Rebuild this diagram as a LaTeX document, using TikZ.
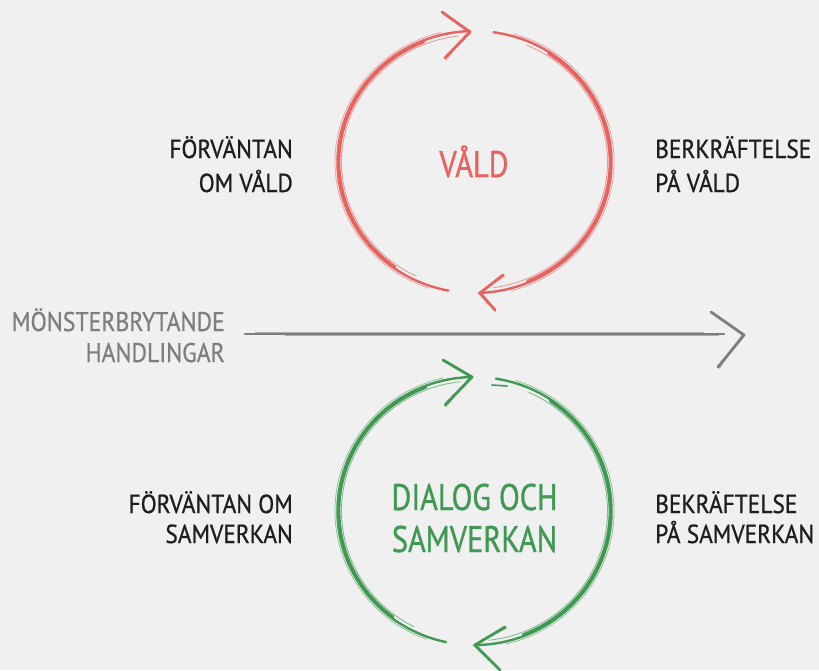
\documentclass[tikz,border=0pt]{standalone}
\usepackage{fontspec}
\setmainfont{PT Sans}
\newfontfamily\lblfont{PT Sans}[FakeStretch=0.9, FakeBold=0.8]
\newfontfamily\grfont{PT Sans}[FakeStretch=0.88, FakeBold=0.6]
\newfontfamily\ctrfont{PT Sans}[FakeStretch=0.82, FakeBold=0.8]
\definecolor{bg}{HTML}{F0F0F0}
\definecolor{vred}{HTML}{E8625F}
\definecolor{sgreen}{HTML}{3F9952}
\definecolor{ggray}{HTML}{7E7E7E}
\definecolor{ink}{HTML}{1E1E1E}
\newcommand\myarc[6]{%
 \draw[#6, line width=2.4pt, line cap=round] ([shift={(#4:#2 and #3)}]#1) arc[start angle=#4, end angle=#5, x radius=#2, y radius=#3];
 \draw[#6, line width=2.8pt, line cap=round] ([shift={(#4+25:#2-1.5 and #3-1.5)}]#1) arc[start angle=#4+25, end angle=#5-20, x radius=#2-1.5, y radius=#3-1.5];
 \draw[#6, line width=0.8pt, opacity=.55] ([shift={(#4+8:#2+2.5 and #3+2.5)}]#1) arc[start angle=#4+8, end angle=#5-12, x radius=#2+2.5, y radius=#3+2.5];
 \draw[#6, line width=0.9pt, opacity=.6] ([shift={(#4+15:#2-4 and #3-4)}]#1) arc[start angle=#4+15, end angle=#5-5, x radius=#2-4, y radius=#3-4];
}
\newcommand\mychev[4]{%
 \draw[#4, line width=2.8pt, line cap=round, line join=round] (#1) -- (#2) -- (#3);
 \draw[#4, line width=0.8pt, opacity=.6, line cap=round] ([shift={(2,1)}]#1) -- ([shift={(-2,0)}]#2) -- ([shift={(1,2)}]#3);
}
\begin{document}
\begin{tikzpicture}[x=1pt,y=-1pt,
  lbl/.style={inner sep=0pt, font=\lblfont\fontsize{26}{26}\selectfont, text=ink},
  grl/.style={inner sep=0pt, font=\grfont\fontsize{27}{27}\selectfont, text=ggray},
  ctr/.style={inner sep=0pt, font=\ctrfont\fontsize{37}{37}\selectfont}]
\useasboundingbox[fill=bg] (0,0) rectangle (819,670);

% centres
\coordinate (rc) at (474.5,162);
\coordinate (gc) at (474.5,511);

% red cycle
\myarc{rc}{137}{131}{101}{268}{vred}
\myarc{rc}{137}{131}{-82}{87}{vred}
\coordinate (rt1) at (442,12); \coordinate (rtt) at (470,32); \coordinate (rt2) at (445,58);
\mychev{rt1}{rtt}{rt2}{vred}
\coordinate (rb1) at (503,275); \coordinate (rbt) at (480,293); \coordinate (rb2) at (495,310);
\mychev{rb1}{rbt}{rb2}{vred}

% green cycle
\myarc{gc}{137}{134}{102}{269}{sgreen}
\myarc{gc}{137}{134}{-81}{89}{sgreen}
\coordinate (gt1) at (443,360); \coordinate (gtt) at (472,377); \coordinate (gt2) at (445,405);
\mychev{gt1}{gtt}{gt2}{sgreen}
\coordinate (gb1) at (505,627); \coordinate (gbt) at (475,645); \coordinate (gb2) at (500,670);
\mychev{gb1}{gbt}{gb2}{sgreen}
\coordinate (gd1) at (492,385); \coordinate (gd2) at (507,386);
\draw[sgreen, line width=1.6pt, line cap=round] (gd1) -- (gd2);

% gray arrow
\coordinate (ga) at (245,334); \coordinate (gz) at (724,334);
\draw[ggray, line width=2.6pt, line cap=round] (ga) -- (gz);
\draw[ggray, line width=0.8pt, opacity=.6] ([shift={(10,-1.7)}]ga) -- ([shift={(-20,-1.7)}]gz);
\draw[ggray, line width=0.8pt, opacity=.6] ([shift={(40,1.7)}]ga) -- ([shift={(-5,1.7)}]gz);
\coordinate (gh1) at (711,312); \coordinate (ght) at (744,335); \coordinate (gh2) at (718,367);
\mychev{gh1}{ght}{gh2}{ggray}

% centre labels
\node[ctr, text=vred, anchor=base] (vald) at (474,177) {VÅLD};
\node[ctr, text=sgreen, anchor=base] (dia1) at (474.5,510) {DIALOG OCH};
\node[ctr, text=sgreen, anchor=base] (dia2) at (474.5,552) {SAMVERKAN};

% side labels
\node[lbl, anchor=base east] (fv1) at (293,158) {FÖRVÄNTAN};
\node[lbl, anchor=base east] (fv2) at (293,192) {OM VÅLD};
\node[lbl, anchor=base west] (bv1) at (655,158) {BERKRÄFTELSE};
\node[lbl, anchor=base west] (bv2) at (655,192) {PÅ VÅLD};
\node[lbl, anchor=base east] (fs1) at (293,513) {FÖRVÄNTAN OM};
\node[lbl, anchor=base east] (fs2) at (293,543) {SAMVERKAN};
\node[lbl, anchor=base west] (bs1) at (655,513) {BEKRÄFTELSE};
\node[lbl, anchor=base west] (bs2) at (655,543) {PÅ SAMVERKAN};
\node[grl, anchor=base east] (m1) at (225,331) {MÖNSTERBRYTANDE};
\node[grl, anchor=base east] (m2) at (225,362) {HANDLINGAR};
\end{tikzpicture}
\end{document}
